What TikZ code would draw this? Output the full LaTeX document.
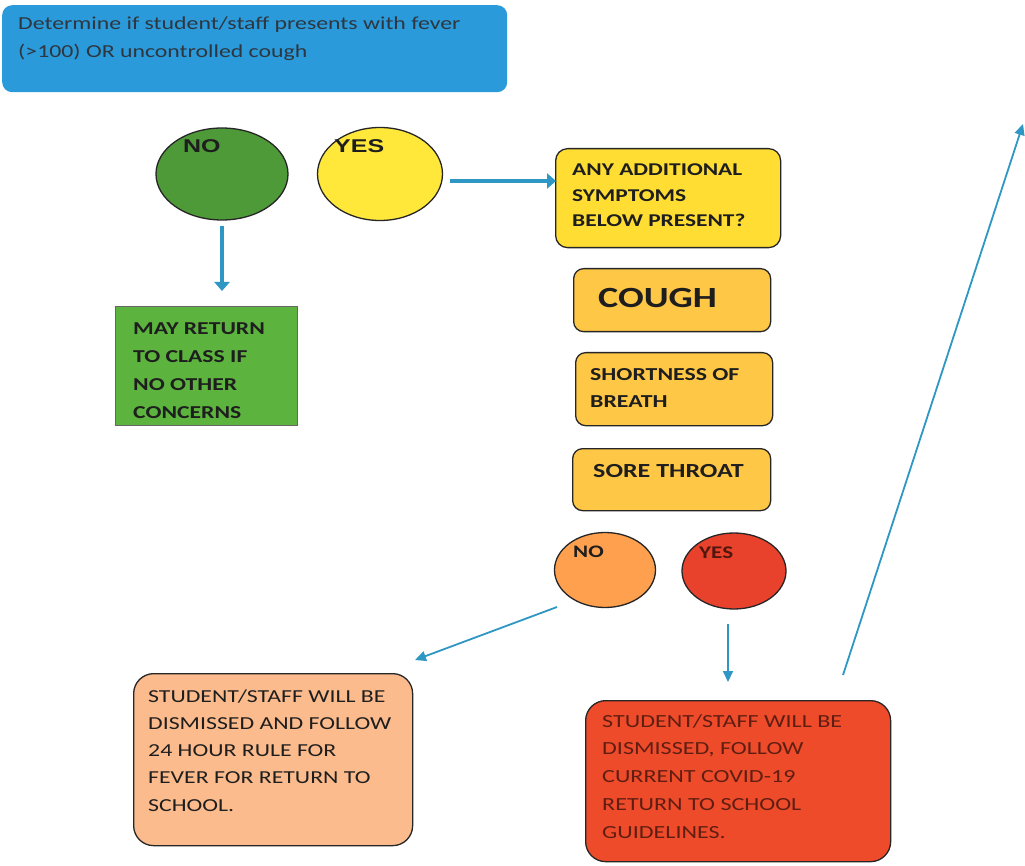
\documentclass[tikz,border=0pt]{standalone}
\usepackage{fontspec}
\setmainfont[FakeStretch=1.3]{Carlito}
\newfontfamily\arialf[FakeStretch=1.35]{Liberation Sans}
\usetikzlibrary{shapes.geometric,arrows.meta,positioning}
\definecolor{topblue}{HTML}{2A9ADA}
\definecolor{arrblue}{HTML}{2E97C4}
\definecolor{nogreen}{HTML}{4E9A38}
\definecolor{boxgreen}{HTML}{5CB43E}
\definecolor{yesyellow}{HTML}{FFE83A}
\definecolor{qyellow}{HTML}{FFDD33}
\definecolor{symorange}{HTML}{FFC746}
\definecolor{noorange}{HTML}{FFA04E}
\definecolor{yesred}{HTML}{E8422C}
\definecolor{peach}{HTML}{FBBB8C}
\definecolor{redbox}{HTML}{EE4B2B}
\definecolor{txt}{HTML}{1E1E1E}
\definecolor{fadetxt}{HTML}{2E3640}
\tikzset{
  boxbase/.style={draw=black!85, line width=1.3pt, anchor=north west, inner sep=0pt},
  oval/.style={ellipse, draw=black!85, line width=1.3pt, inner sep=0pt},
  txtnode/.style={anchor=base west, inner sep=0pt, align=left, text=txt},
  thickarr/.style={draw=arrblue, line width=4.5pt, -{Triangle[length=9pt,width=15pt]}},
  thinarr/.style={draw=arrblue, line width=1.8pt, -{Triangle[length=11pt,width=10pt]}},
}
\begin{document}
\begin{tikzpicture}[x=1pt,y=-1pt]
\useasboundingbox (0,0) rectangle (1025,866);
\fill[white] (0,0) rectangle (1025,866);

% top box (text anchored at baseline of its last line)
\node[draw=none, fill=topblue, rounded corners=10pt, anchor=north west, inner sep=0pt,
  minimum width=505pt, minimum height=87pt] (top) at (2,5) {};
\node[txtnode, text=fadetxt, font=\fontsize{18.3}{28}\selectfont] (toptxt) at (18,58)
  {Determine if student/staff presents with fever\\(>100) OR uncontrolled cough};

% first decision ellipses
\node[oval, fill=nogreen, minimum width=132pt, minimum height=92pt] (no1) at (222,174) {};
\node[txtnode, font=\arialf\bfseries\fontsize{18.5}{20}\selectfont] (no1lab) at (183,153) {NO};
\node[oval, fill=yesyellow, minimum width=125pt, minimum height=93pt] (yes1) at (380,174) {};
\node[txtnode, font=\arialf\bfseries\fontsize{18.5}{20}\selectfont] (yes1lab) at (334,153) {YES};

% question box
\node[boxbase, fill=qyellow, rounded corners=12pt, minimum width=225pt, minimum height=99pt] (q) at (555,148) {};
\node[txtnode, font=\fontsize{18}{25.5}\selectfont\bfseries] (qtxt) at (572,227)
  {ANY ADDITIONAL\\SYMPTOMS\\BELOW PRESENT?};

% may return box
\node[draw=black!60, line width=1pt, fill=boxgreen, anchor=north west, inner sep=0pt,
  minimum width=182pt, minimum height=119pt] (may) at (115,306) {};
\node[txtnode, font=\fontsize{18.2}{27.7}\selectfont\bfseries] (maytxt) at (133,418)
  {MAY RETURN\\TO CLASS IF\\NO OTHER\\CONCERNS};

% symptom boxes
\node[boxbase, fill=symorange, rounded corners=10pt, minimum width=197pt, minimum height=63pt] (cough) at (573,268) {};
\node[txtnode, font=\fontsize{29.3}{30}\selectfont\bfseries] (coughtxt) at (598,308) {COUGH};

\node[boxbase, fill=symorange, rounded corners=10pt, minimum width=197pt, minimum height=73pt] (sob) at (575,352) {};
\node[txtnode, font=\fontsize{18.3}{27}\selectfont\bfseries] (sobtxt) at (590,407)
  {SHORTNESS OF\\BREATH};

\node[boxbase, fill=symorange, rounded corners=10pt, minimum width=198pt, minimum height=62pt] (sore) at (572,448) {};
\node[txtnode, font=\fontsize{20}{27}\selectfont\bfseries] (soretxt) at (593,477)
  {SORE THROAT};

% second decision ellipses
\node[oval, fill=noorange, minimum width=101pt, minimum height=75pt] (no2) at (605,570) {};
\node[txtnode, font=\fontsize{17.6}{20}\selectfont\bfseries] (no2lab) at (573,557) {NO};
\node[oval, fill=yesred, minimum width=104pt, minimum height=76pt] (yes2) at (734,571) {};
\node[txtnode, text=black!65!yesred, font=\fontsize{17.8}{20}\selectfont\bfseries] (yes2lab) at (699,558) {YES};

% outcome boxes
\node[draw=black!85, line width=1.3pt, fill=peach, rounded corners=20pt, anchor=north west, inner sep=0pt,
  minimum width=279pt, minimum height=172pt] (dis1) at (133,673) {};
\node[txtnode, font=\fontsize{18.3}{27.25}\selectfont] (dis1txt) at (148,811)
  {STUDENT/STAFF WILL BE\\DISMISSED AND FOLLOW\\24 HOUR RULE FOR\\FEVER FOR RETURN TO\\SCHOOL.};

\node[draw=black!85, line width=1.3pt, fill=redbox, rounded corners=20pt, anchor=north west, inner sep=0pt,
  minimum width=305pt, minimum height=161pt] (dis2) at (585,700) {};
\node[txtnode, text=black!60!redbox, font=\fontsize{18.5}{27.75}\selectfont] (dis2txt) at (602,838)
  {STUDENT/STAFF WILL BE\\DISMISSED, FOLLOW\\CURRENT COVID-19\\RETURN TO SCHOOL\\GUIDELINES.};

% arrow end points
\coordinate (c1s) at (222,226);
\coordinate (c1e) at (222,291);
\coordinate (c2s) at (450,181);
\coordinate (c2e) at (556,181);
\coordinate (c3s) at (557,607);
\coordinate (c3e) at (415,660);
\coordinate (c4s) at (728,624);
\coordinate (c4e) at (728,682);
\coordinate (c5s) at (843,675);
\coordinate (c5e) at (1023,124);

\draw[thickarr] (c1s) -- (c1e);
\draw[thickarr, line width=4pt] (c2s) -- (c2e);
\draw[thinarr] (c3s) -- (c3e);
\draw[thinarr] (c4s) -- (c4e);
\draw[thinarr] (c5s) -- (c5e);
\end{tikzpicture}
\end{document}
